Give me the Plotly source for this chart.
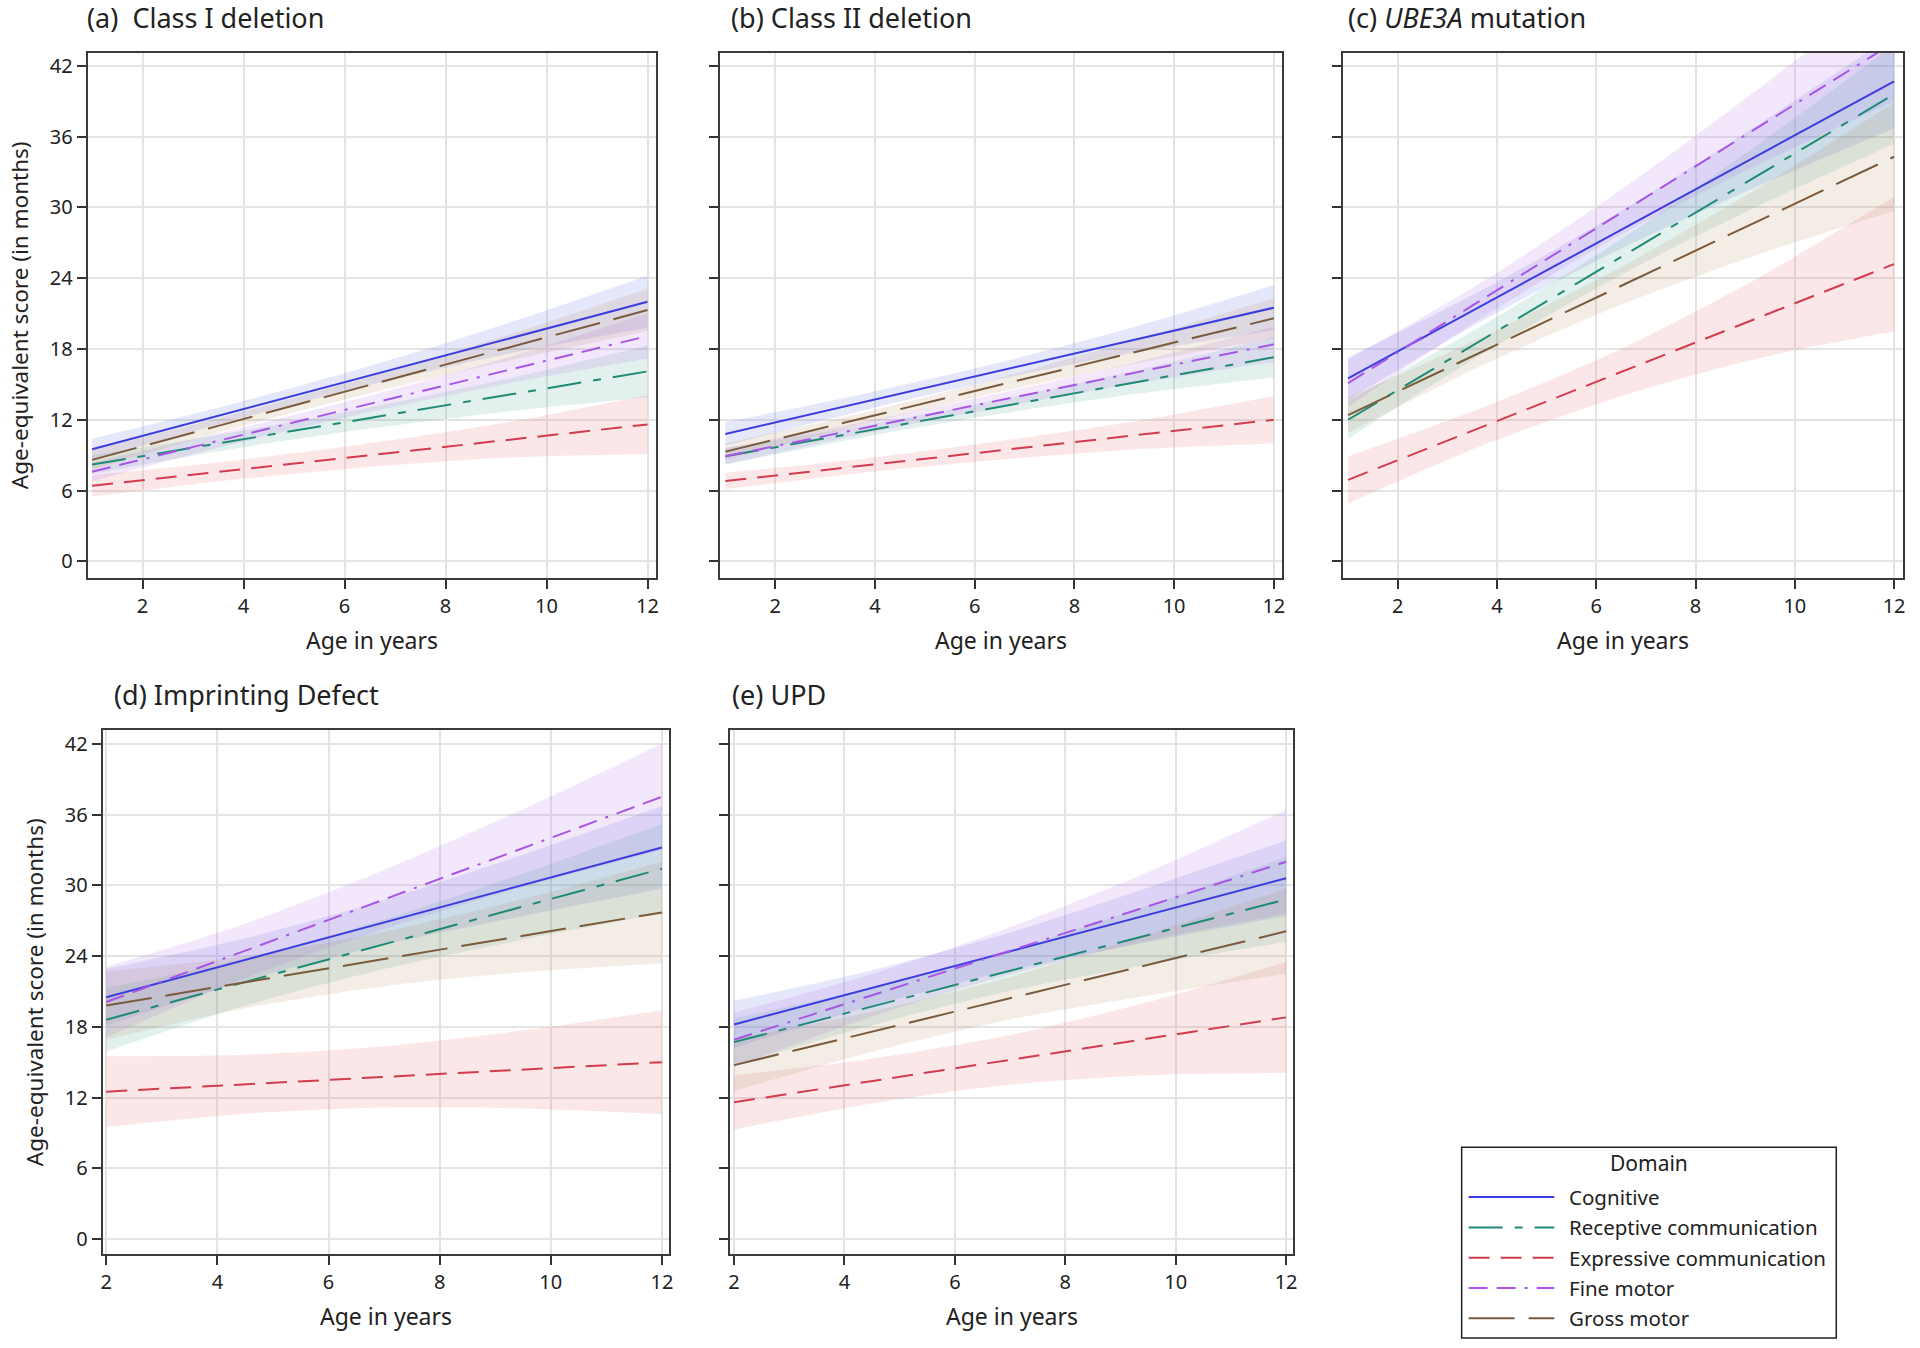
import plotly.graph_objects as go

# ---------------- data ----------------
DOMAINS = ["Cognitive", "Receptive communication", "Expressive communication", "Fine motor", "Gross motor"]
PANEL_TITLES = ["(a)  Class I deletion", "(b) Class II deletion", "(c) <i>UBE3A</i> mutation",
                "(d) Imprinting Defect", "(e) UPD"]
X_TICKS = [2, 4, 6, 8, 10, 12]
Y_TICKS = [0, 6, 12, 18, 24, 30, 36, 42]

AGE_TOP = [1, 12]
AGE_BOT = [2, 12]
BAND_AGE_TOP = [1, 3.75, 6.5, 9.25, 12]
BAND_AGE_BOT = [2, 4.5, 7, 9.5, 12]

# order of series in each list: Cognitive, Receptive, Expressive, Fine motor, Gross motor
A_FIT = [[9.5, 22.0], [8.2, 16.1], [6.4, 11.6], [7.6, 19.1], [8.6, 21.3]]
A_LO = [[8.6, 11.9, 14.95, 17.6, 19.8], [7.4, 9.5, 11.25, 12.7, 13.9], [5.5, 6.9, 8.0, 8.8, 9.1],
        [6.8, 9.9, 12.65, 15.1, 17.2], [7.8, 11.2, 14.25, 17.0, 19.5]]
A_HI = [[10.4, 13.3, 16.55, 20.2, 24.2], [9.0, 10.9, 13.05, 15.5, 18.3], [7.3, 8.5, 10.0, 11.8, 14.1],
        [8.4, 11.1, 14.05, 17.3, 21.0], [9.4, 12.4, 15.65, 19.2, 23.1]]

B_FIT = [[10.8, 21.5], [8.9, 17.3], [6.8, 12.0], [8.9, 18.4], [9.3, 20.6]]
B_LO = [[9.8, 12.77, 15.45, 17.72, 19.6], [8.2, 10.5, 12.5, 14.2, 15.6], [6.1, 7.5, 8.6, 9.5, 10.0],
        [8.2, 10.8, 13.05, 15.1, 16.9], [8.6, 11.6, 14.35, 16.8, 18.9]]
B_HI = [[11.8, 14.17, 16.85, 19.92, 23.4], [9.6, 11.5, 13.7, 16.2, 19.0], [7.5, 8.7, 10.2, 11.9, 14.0],
        [9.6, 11.8, 14.25, 16.9, 19.9], [10.0, 12.6, 15.55, 18.8, 22.3]]

C_FIT = [[15.5, 40.7], [12.0, 39.6], [6.9, 25.2], [15.1, 44.0], [12.4, 34.3]]
C_LO = [[13.7, 20.5, 26.5, 31.8, 36.7], [10.4, 17.7, 24.3, 30.1, 35.4], [4.9, 9.9, 14.0, 17.2, 19.5],
        [13.1, 20.8, 27.7, 33.6, 39.0], [10.9, 16.7, 21.75, 26.0, 29.7]]
C_HI = [[17.3, 23.1, 29.7, 37.0, 44.7], [13.6, 20.1, 27.3, 35.3, 43.8], [8.9, 13.1, 18.0, 24.0, 30.9],
        [17.1, 23.8, 31.5, 40.0, 49.0], [13.9, 19.1, 24.95, 31.6, 38.9]]

D_FIT = [[20.5, 33.2], [18.6, 31.4], [12.5, 15.0], [20.1, 37.5], [19.8, 27.7]]
D_LO = [[18.1, 21.9, 24.95, 27.4, 29.7], [15.9, 19.8, 22.9, 25.4, 27.6], [9.5, 10.63, 11.15, 11.08, 10.6],
        [17.1, 22.15, 26.3, 29.85, 33.0], [16.9, 19.58, 21.45, 22.63, 23.4]]
D_HI = [[22.9, 25.5, 28.75, 32.6, 36.7], [21.3, 23.8, 27.1, 31.0, 35.2], [15.5, 15.63, 16.35, 17.68, 19.4],
        [23.1, 26.75, 31.3, 36.45, 42.0], [22.7, 23.98, 26.05, 28.83, 32.0]]

E_FIT = [[18.2, 30.6], [16.7, 28.8], [11.6, 18.8], [16.9, 32.0], [14.75, 26.1]]
E_LO = [[16.2, 19.8, 22.8, 25.2, 27.4], [14.7, 18.13, 21.05, 23.28, 25.2], [9.3, 11.5, 13.1, 13.9, 14.1],
        [14.6, 18.88, 22.45, 25.33, 27.6], [12.55, 15.89, 18.63, 20.66, 22.5]]
E_HI = [[20.2, 22.8, 26.0, 29.8, 33.8], [18.7, 21.33, 24.45, 28.28, 32.4], [13.9, 15.3, 17.3, 20.1, 23.5],
        [19.2, 22.48, 26.45, 31.13, 36.4], [16.95, 19.29, 22.23, 25.86, 29.7]]

# ---------------- styles ----------------
W, H = 1920, 1348
FONT = "Noto Sans"
LINE_COLORS = ["#3d3ddf", "#1f8a74", "#d33c4e", "#a855e6", "#7a5a3c"]
BAND_COLORS = ["rgba(95,105,225,0.16)", "rgba(40,150,125,0.13)", "rgba(230,95,95,0.15)",
               "rgba(175,115,230,0.17)", "rgba(175,135,85,0.15)"]
DASHES = ["solid", "34px,12px,8px,12px", "21px,11px", "19px,9px,19px,9px,3px,9px", "46px,14px"]

# plot boxes in pixels: (left, right, top, bottom)
BOXES = [(86, 656, 52, 577), (721, 1285, 52, 577), (1346, 1908, 52, 577),
         (101, 669, 730, 1254), (731, 1296, 730, 1254)]
X_RANGES = [[0.913, 12.16], [0.9, 12.17], [0.9, 12.18], [1.935, 12.12], [1.933, 12.13]]
Y_RANGES = [[-1.38, 43.1]] * 3 + [[-1.27, 43.13]] * 2

panels = [
    (AGE_TOP, BAND_AGE_TOP, A_FIT, A_LO, A_HI),
    (AGE_TOP, BAND_AGE_TOP, B_FIT, B_LO, B_HI),
    (AGE_TOP, BAND_AGE_TOP, C_FIT, C_LO, C_HI),
    (AGE_BOT, BAND_AGE_BOT, D_FIT, D_LO, D_HI),
    (AGE_BOT, BAND_AGE_BOT, E_FIT, E_LO, E_HI),
]

fig = go.Figure()
for p, (ages, bages, fit, lo, hi) in enumerate(panels):
    xa = "x" if p == 0 else f"x{p+1}"
    ya = "y" if p == 0 else f"y{p+1}"
    # bands first
    for s in range(5):
        fig.add_trace(go.Scatter(x=bages, y=lo[s], xaxis=xa, yaxis=ya, mode="lines",
                                 line=dict(width=0, shape="spline", smoothing=0.8),
                                 showlegend=False, hoverinfo="skip"))
        fig.add_trace(go.Scatter(x=bages, y=hi[s], xaxis=xa, yaxis=ya, mode="lines",
                                 line=dict(width=0, shape="spline", smoothing=0.8),
                                 fill="tonexty", fillcolor=BAND_COLORS[s],
                                 showlegend=False, hoverinfo="skip"))
    for s in range(5):
        fig.add_trace(go.Scatter(x=ages, y=fit[s], xaxis=xa, yaxis=ya, mode="lines",
                                 name=DOMAINS[s], legendgroup=DOMAINS[s],
                                 line=dict(color=LINE_COLORS[s], width=2, dash=DASHES[s]),
                                 showlegend=False))

layout = dict(width=W, height=H, margin=dict(l=0, r=0, t=0, b=0),
              paper_bgcolor="white", plot_bgcolor="white",
              font=dict(family=FONT, color="#222222"), showlegend=False)

annotations = []
for p, (l, r, t, b) in enumerate(BOXES):
    sfx = "" if p == 0 else str(p + 1)
    show_y_labels = p in (0, 3)
    layout["xaxis" + sfx] = dict(
        domain=[l / W, r / W], anchor="y" + sfx, range=X_RANGES[p],
        tickvals=X_TICKS, ticks="outside", ticklen=9, tickwidth=1.5, tickcolor="#333",
        tickfont=dict(size=20, color="#222", family=FONT),
        showgrid=True, gridcolor="#e4e4e4", gridwidth=1.5, zeroline=False,
        showline=True, linecolor="#3a3a3a", linewidth=2, mirror=True)
    layout["yaxis" + sfx] = dict(
        domain=[1 - b / H, 1 - t / H], anchor="x" + sfx, range=Y_RANGES[p],
        tickvals=Y_TICKS, showticklabels=show_y_labels, ticks="outside", ticklen=9,
        tickwidth=1.5, tickcolor="#333",
        tickfont=dict(size=20, color="#222", family=FONT),
        showgrid=True, gridcolor="#e4e4e4", gridwidth=1.5, zeroline=False,
        showline=True, linecolor="#3a3a3a", linewidth=2, mirror=True)
    # x axis title
    annotations.append(dict(text="Age in years", xref="paper", yref="paper",
                            x=(l + r) / 2 / W, y=1 - (b + 62) / H, xanchor="center", yanchor="middle",
                            showarrow=False, font=dict(size=23, color="#222", family=FONT)))
    # y axis title
    if show_y_labels:
        annotations.append(dict(text="Age-equivalent score (in months)", xref="paper", yref="paper",
                                x=(l - 69) / W, y=1 - (t + b) / 2 / H, xanchor="center", yanchor="middle",
                                textangle=-90, showarrow=False,
                                font=dict(size=22.5, color="#222", family=FONT)))

TITLE_POS = [(83, 17), (730, 17), (1349, 17), (110, 694), (731, 694)]
for p, (tx, ty) in enumerate(TITLE_POS):
    annotations.append(dict(text=PANEL_TITLES[p], xref="paper", yref="paper",
                            x=tx / W, y=1 - ty / H, xanchor="left", yanchor="middle",
                            showarrow=False, font=dict(size=27, color="#222", family=FONT)))

# legend (drawn as layout decoration)
LEG_L, LEG_R, LEG_T, LEG_B = 1465, 1841, 1147, 1338
shapes = [dict(type="rect", xref="paper", yref="paper", x0=LEG_L / W, x1=LEG_R / W,
               y0=1 - LEG_B / H, y1=1 - LEG_T / H, line=dict(color="#222", width=1.5),
               fillcolor="white", layer="above")]
annotations.append(dict(text="Domain", xref="paper", yref="paper", x=(LEG_L + LEG_R) / 2 / W,
                        y=1 - 1163 / H, xanchor="center", yanchor="middle", showarrow=False,
                        font=dict(size=21, color="#222", family=FONT)))
for s in range(5):
    yy = 1 - (1197 + s * 30.3) / H
    shapes.append(dict(type="line", xref="paper", yref="paper", x0=1472 / W, x1=1558 / W,
                       y0=yy, y1=yy, line=dict(color=LINE_COLORS[s], width=2, dash=DASHES[s]),
                       layer="above"))
    annotations.append(dict(text=DOMAINS[s], xref="paper", yref="paper", x=1571 / W, y=yy,
                            xanchor="left", yanchor="middle", showarrow=False,
                            font=dict(size=20.5, color="#222", family=FONT)))

layout["annotations"] = annotations
layout["shapes"] = shapes
fig.update_layout(**layout)
fig.write_html("out.html", config={"displayModeBar": False},
               post_script="document.body.style.margin='0';")
